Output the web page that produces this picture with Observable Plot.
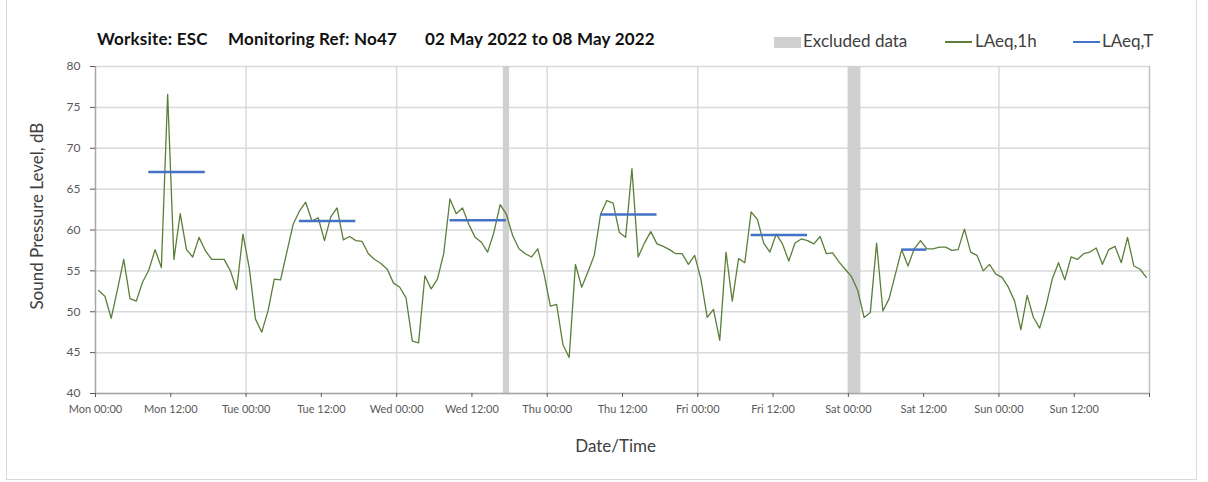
<!DOCTYPE html>
<html><head><meta charset="utf-8">
<script src="https://cdn.jsdelivr.net/npm/d3@7"></script>
<script src="https://cdn.jsdelivr.net/npm/@observablehq/plot@0.6"></script>
<style>
body{margin:0;background:#fff;font-family:Lato,"Open Sans",sans-serif;}
#wrap{position:relative;width:1208px;height:482px;overflow:hidden;}
#frame{position:absolute;left:6px;top:-2px;width:1191px;height:482px;border:1px solid #d9d9d9;box-sizing:border-box;pointer-events:none;}
#header{position:relative;height:52px;}
.t{position:absolute;top:29px;font-weight:bold;font-size:17px;line-height:20px;color:#111;white-space:nowrap;letter-spacing:0.2px;}
.lg{position:absolute;top:31px;font-size:17px;line-height:20px;color:#404040;white-space:nowrap;}
.sw{position:absolute;}
</style></head>
<body>
<div id="wrap">
  <div id="header">
    <span class="t" style="left:97px">Worksite: ESC</span>
    <span class="t" style="left:228px">Monitoring Ref: No47</span>
    <span class="t" style="left:425px">02 May 2022 to 08 May 2022</span>
    <div class="sw" style="left:774px;top:37px;width:27px;height:11px;background:#d0d0d0"></div>
    <span class="lg" style="left:803px">Excluded data</span>
    <div class="sw" style="left:945px;top:41px;width:27px;height:1.5px;background:#5b7f3a"></div>
    <span class="lg" style="left:975px">LAeq,1h</span>
    <div class="sw" style="left:1073px;top:40.5px;width:27px;height:2.5px;background:#4472c4"></div>
    <span class="lg" style="left:1102px">LAeq,T</span>
  </div>
  <div id="chart"></div>
  <div id="frame"></div>
</div>
<script>
const days = ["Mon","Tue","Wed","Thu","Fri","Sat","Sun"];
const laeq1h = [
 52.6,51.9,49.2,52.7,56.4,51.6,51.3,53.6,55.1,57.6,55.4,76.6,56.4,62.0,57.6,56.7,59.1,57.5,56.4,56.4,56.4,55.0,52.7,59.5,
 55.4,49.1,47.5,50.1,54.0,53.9,57.3,60.7,62.3,63.4,61.1,61.5,58.7,61.6,62.7,58.8,59.2,58.7,58.6,57.1,56.4,55.9,55.2,53.5,
 53.0,51.7,46.4,46.2,54.4,52.8,54.0,57.1,63.8,62.0,62.7,60.7,59.1,58.5,57.3,59.7,63.1,61.9,59.3,57.7,57.1,56.7,57.7,54.6,
 50.7,50.9,46.0,44.4,55.8,53.0,54.9,56.9,61.9,63.6,63.3,59.7,59.1,67.5,56.7,58.4,59.8,58.3,58.0,57.6,57.1,57.1,55.8,56.9,
 54.0,49.3,50.3,46.5,57.3,51.3,56.5,56.0,62.2,61.3,58.4,57.3,59.5,58.3,56.2,58.4,58.9,58.7,58.3,59.2,57.1,57.2,56.1,55.2,
 54.3,52.6,49.3,49.9,58.4,50.1,51.6,54.6,57.6,55.6,57.7,58.7,57.7,57.7,57.9,57.9,57.5,57.6,60.1,57.3,56.9,55.0,55.8,54.6,
 54.2,53.0,51.3,47.8,52.0,49.3,48.0,50.7,54.0,56.0,53.9,56.7,56.4,57.1,57.3,57.8,55.8,57.6,58.0,56.0,59.1,55.6,55.2,54.2
];
const periodStartHour = [8,32,56,80,104,128];
const periodEndHour = [17,41,65,89,113,132];
const laeqT = [67.1,61.1,61.2,61.9,59.4,57.6];
const excludedStart = [65,120];
const excludedEnd = [66,122];
const yTicks = [40,45,50,55,60,65,70,75,80];
const xTicks = [0,12,24,36,48,60,72,84,96,108,120,132,144,156,168];
const dayLines = [24,48,72,96,120,144];

const series = laeq1h.map((v,i)=>({h:i+0.5, v}));
const periods = laeqT.map((v,i)=>({s:periodStartHour[i]+0.5, e:periodEndHour[i]+0.5, v}));
const excluded = excludedStart.map((s,i)=>({s, e:excludedEnd[i]}));
const fmt = h => h>=168 ? "" : `${days[Math.floor(h/24)]} ${h%24===0?"00:00":"12:00"}`;

const chart = Plot.plot({
  width:1208, height:430,
  marginTop:14, marginBottom:89, marginLeft:95, marginRight:59,
  style:{fontFamily:"Lato, 'Open Sans', sans-serif", background:"transparent", overflow:"visible"},
  x:{domain:[0,168]},
  y:{domain:[40,80]},
  marks:[
    Plot.ruleY(yTicks, {stroke:"#d9d9d9", strokeWidth:1.5}),
    Plot.ruleX(dayLines, {stroke:"#d9d9d9", strokeWidth:1.5}),
    Plot.rect(excluded, {x1:"s", x2:"e", y1:40, y2:80, fill:"#d0d0d0"}),
    Plot.ruleX([168], {stroke:"#bfbfbf", strokeWidth:1.5}),
    Plot.ruleY([40], {stroke:"#a6a6a6", strokeWidth:1.5}),
    Plot.ruleX([0], {stroke:"#a6a6a6", strokeWidth:1.5}),
    Plot.axisY({ticks:yTicks, tickSize:5, tickPadding:10, fontSize:12, color:"#595959", label:null}),
    Plot.axisX({ticks:xTicks, tickSize:4, tickPadding:8, fontSize:11, tickFormat:fmt, color:"#595959", label:null}),
    Plot.line(series, {x:"h", y:"v", stroke:"#5b7f3a", strokeWidth:1.3}),
    Plot.ruleY(periods, {y:"v", x1:"s", x2:"e", stroke:"#4472c4", strokeWidth:2.5}),
    Plot.text(["Sound Pressure Level, dB"], {text:d=>d, frameAnchor:"left", textAnchor:"middle", y:[61.7], rotate:-90, dx:-58, fontSize:17, fill:"#404040"}),
    Plot.text(["Date/Time"], {text:d=>d, frameAnchor:"bottom", x:[82.9], dy:58, fontSize:17, fill:"#404040"})
  ]
});
document.getElementById("chart").appendChild(chart);
</script>
</body></html>
